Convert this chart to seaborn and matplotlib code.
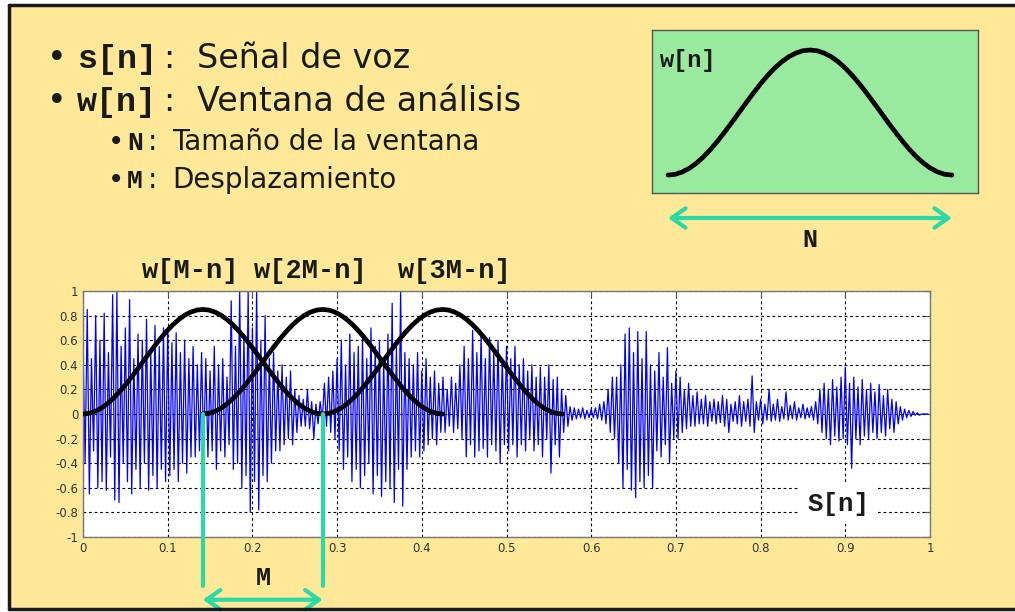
import numpy as np
import pandas as pd
import matplotlib
matplotlib.use("Agg")
import matplotlib.pyplot as plt
import seaborn as sns
from matplotlib.lines import Line2D

# picos positivo / negativo de s[n], un par cada 0.005 s
s_top = [0.55, 0.85, 0.45, 0.80, 0.60, 0.82, 0.50, 0.97, 1.00, 0.55, 0.70, 0.93, 0.45, 0.65, 0.60, 0.77, 0.50, 0.72, 0.55, 0.70,
         0.69, 0.58, 0.66, 0.50, 0.60, 0.45, 0.55, 0.40, 0.50, 0.45, 0.35, 0.55, 0.40, 0.45, 0.30, 0.92, 0.55, 1.00, 0.65, 1.00,
         0.70, 1.00, 0.60, 0.80, 0.45, 0.50, 0.35, 0.40, 0.30, 0.35, 0.20, 0.15, 0.12, 0.20, 0.10, 0.08, 0.10, 0.25, 0.30, 0.35,
         0.45, 0.60, 0.40, 0.65, 0.50, 0.55, 0.62, 0.45, 0.70, 0.55, 0.60, 0.45, 0.65, 0.90, 0.55, 1.00, 0.50, 0.45, 0.40, 0.50,
         0.35, 0.45, 0.30, 0.35, 0.25, 0.30, 0.20, 0.30, 0.25, 0.40, 0.55, 0.45, 0.68, 0.50, 0.65, 0.45, 0.62, 0.50, 0.60, 0.45,
         0.55, 0.45, 0.55, 0.40, 0.45, 0.35, 0.40, 0.30, 0.38, 0.30, 0.40, 0.28, 0.30, 0.20, 0.15, 0.06, 0.05, 0.04, 0.05, 0.03,
         0.04, 0.05, 0.08, 0.10, 0.20, 0.30, 0.30, 0.40, 0.65, 0.70, 0.50, 0.67, 0.45, 0.67, 0.40, 0.35, 0.50, 0.30, 0.54, 0.25,
         0.35, 0.30, 0.20, 0.25, 0.15, 0.18, 0.12, 0.15, 0.10, 0.12, 0.10, 0.15, 0.12, 0.08, 0.10, 0.15, 0.10, 0.12, 0.31, 0.10,
         0.12, 0.08, 0.20, 0.08, 0.12, 0.06, 0.18, 0.07, 0.10, 0.05, 0.08, 0.05, 0.06, 0.10, 0.20, 0.25, 0.20, 0.28, 0.22, 0.30,
         0.38, 0.25, 0.30, 0.22, 0.28, 0.20, 0.25, 0.18, 0.24, 0.15, 0.20, 0.12, 0.10, 0.06, 0.04, 0.03, 0.02, 0.01, 0.00, 0.00]
s_bot = [-0.40, -0.65, -0.30, -0.60, -0.55, -0.62, -0.35, -0.70, -0.72, -0.40, -0.55, -0.65, -0.45, -0.60, -0.40, -0.62, -0.50, -0.60, -0.45, -0.55,
         -0.50, -0.45, -0.55, -0.40, -0.48, -0.35, -0.35, -0.30, -0.30, -0.35, -0.30, -0.45, -0.30, -0.35, -0.25, -0.45, -0.40, -0.60, -0.50, -0.80,
         -0.55, -0.78, -0.50, -0.55, -0.40, -0.30, -0.30, -0.25, -0.20, -0.25, -0.15, -0.10, -0.10, -0.12, -0.20, -0.08, -0.05, -0.10, -0.15, -0.20,
         -0.30, -0.45, -0.35, -0.55, -0.45, -0.60, -0.50, -0.40, -0.65, -0.50, -0.67, -0.55, -0.60, -0.72, -0.45, -0.75, -0.45, -0.35, -0.30, -0.35,
         -0.30, -0.25, -0.20, -0.25, -0.15, -0.15, -0.10, -0.15, -0.12, -0.20, -0.35, -0.25, -0.35, -0.30, -0.28, -0.35, -0.25, -0.30, -0.40, -0.25,
         -0.30, -0.25, -0.35, -0.25, -0.30, -0.20, -0.30, -0.25, -0.35, -0.20, -0.48, -0.25, -0.35, -0.15, -0.10, -0.05, -0.04, -0.03, -0.04, -0.03,
         -0.03, -0.04, -0.05, -0.08, -0.15, -0.20, -0.40, -0.60, -0.45, -0.62, -0.68, -0.55, -0.60, -0.50, -0.60, -0.30, -0.35, -0.25, -0.40, -0.20,
         -0.20, -0.15, -0.12, -0.10, -0.10, -0.08, -0.08, -0.10, -0.06, -0.08, -0.07, -0.10, -0.15, -0.06, -0.08, -0.10, -0.06, -0.10, -0.15, -0.05,
         -0.08, -0.05, -0.06, -0.05, -0.06, -0.04, -0.05, -0.04, -0.05, -0.03, -0.04, -0.03, -0.05, -0.08, -0.15, -0.20, -0.25, -0.18, -0.22, -0.20,
         -0.25, -0.44, -0.20, -0.25, -0.18, -0.20, -0.15, -0.20, -0.15, -0.18, -0.12, -0.15, -0.08, -0.05, -0.03, -0.02, -0.01, -0.01, 0.00, 0.00]

# ventana w[n] (41 muestras) y sus desplazamientos
w_shape = [0, 0.005, 0.021, 0.046, 0.081, 0.124, 0.175, 0.232, 0.294, 0.358, 0.425,
           0.491, 0.556, 0.618, 0.675, 0.726, 0.769, 0.804, 0.829, 0.845, 0.85,
           0.845, 0.829, 0.804, 0.769, 0.726, 0.675, 0.618, 0.556, 0.491, 0.425,
           0.358, 0.294, 0.232, 0.175, 0.124, 0.081, 0.046, 0.021, 0.005, 0]
win_len = 0.283
win_starts = [0.0, 0.1415, 0.283]
win_labels = ["w[M-n]", "w[2M-n]", "w[3M-n]"]

x_ticks = [0, 0.1, 0.2, 0.3, 0.4, 0.5, 0.6, 0.7, 0.8, 0.9, 1]
x_ticklabels = ["0", "0.1", "0.2", "0.3", "0.4", "0.5", "0.6", "0.7", "0.8", "0.9", "1"]
y_ticks = [-1, -0.8, -0.6, -0.4, -0.2, 0, 0.2, 0.4, 0.6, 0.8, 1]
y_ticklabels = ["-1", "-0.8", "-0.6", "-0.4", "-0.2", "0", "0.2", "0.4", "0.6", "0.8", "1"]

yellow = "#FFE999"
green = "#99E99F"
teal = "#2AD9A6"
mono = "Liberation Mono"
sans = "DejaVu Sans"
ink = "#1a1a1a"

sns.set_theme(style="white")
plt.rcParams["font.family"] = ["DejaVu Sans"]

W, H = 1015, 612
def fx(px):
    return px / W
def fy(py):
    return 1 - py / H

fig = plt.figure(figsize=(10.15, 6.12), dpi=100)
fig.patch.set_facecolor(yellow)
# franja blanca y marco de la diapositiva (izquierda, arriba, abajo)
fig.add_artist(plt.Rectangle((0, 0), 1, 1, transform=fig.transFigure,
                             facecolor="white", edgecolor="none", zorder=0))
fig.add_artist(plt.Rectangle((fx(8.5), fy(609)), 1.2, (609 - 5) / H,
                             transform=fig.transFigure, facecolor=yellow,
                             edgecolor="none", zorder=0))
for xs, ys in [([8.5, 8.5], [5, 609]), ([8.5, 1015], [5, 5]), ([8.5, 1015], [609, 609])]:
    fig.add_artist(Line2D([fx(v) for v in xs], [fy(v) for v in ys],
                          transform=fig.transFigure, color=ink, lw=2.5, zorder=1))

# ---- senal principal ----
ax = fig.add_axes([fx(83), fy(537), 847 / W, 246 / H])
ax.set_facecolor("white")

t = np.arange(2 * len(s_top)) * 0.0025
s = np.empty(2 * len(s_top))
s[0::2] = s_top
s[1::2] = s_bot
df_s = pd.DataFrame({"t": t, "s": s})
sns.lineplot(data=df_s, x="t", y="s", sort=False, estimator=None,
             color="#0000FF", lw=0.9, ax=ax, zorder=2)

curve = dict(color="black", lw=3.4, solid_joinstyle="round", solid_capstyle="round")
for st in win_starts:
    df_w = pd.DataFrame({"n": st + np.linspace(0, win_len, len(w_shape)), "w": w_shape})
    sns.lineplot(data=df_w, x="n", y="w", sort=False, estimator=None,
                 ax=ax, zorder=3, **curve)

for st in win_starts[1:]:
    ax.plot([st, st], [0, -1.40], color=teal, lw=3, clip_on=False, zorder=4)

arrow = dict(arrowstyle="<->,head_length=0.5,head_width=0.35", color=teal,
             lw=3, mutation_scale=20, shrinkA=0, shrinkB=0)
ax.annotate("", xy=(win_starts[2], -1.51), xytext=(win_starts[1], -1.51),
            arrowprops=arrow, annotation_clip=False)
ax.text((win_starts[1] + win_starts[2]) / 2, -1.33, "M", ha="center", va="center",
        family=mono, weight="bold", size=18, color=ink, clip_on=False)

ax.set_xlim(0, 1)
ax.set_ylim(-1, 1)
ax.set_xticks(x_ticks)
ax.set_xticklabels(x_ticklabels)
ax.set_yticks(y_ticks)
ax.set_yticklabels(y_ticklabels)
ax.set_xlabel("")
ax.set_ylabel("")
ax.tick_params(direction="in", top=True, right=True, length=4, width=0.8,
               colors="#555", labelsize=8.5, labelcolor="#333")
ax.grid(True, color="black", linestyle=(0, (2.5, 2.5)), lw=0.8)
ax.set_axisbelow(True)
for sp in ax.spines.values():
    sp.set_color("#777")
    sp.set_linewidth(1)

ax.text(0.856, -0.73, "S[n]", ha="left", va="center", family=mono,
        weight="bold", size=18.5, color=ink,
        bbox=dict(facecolor="white", edgecolor="none", pad=6), zorder=5)

for lab, px in zip(win_labels, [142, 254, 398]):
    fig.text(fx(px), fy(271), lab, ha="left", va="center", family=mono,
             weight="bold", size=19.5, color=ink)

# ---- recuadro w[n] ----
ins = fig.add_axes([fx(652), fy(193), 326 / W, 163 / H])
ins.set_facecolor(green)
df_w0 = pd.DataFrame({"n": np.linspace(0, win_len, len(w_shape)), "w": w_shape})
sns.lineplot(data=df_w0, x="n", y="w", sort=False, estimator=None, ax=ins, **curve)
ins.set_xlim(-0.016, 0.309)
ins.set_ylim(-0.122, 0.986)
ins.set_xticks([])
ins.set_yticks([])
ins.set_xlabel("")
ins.set_ylabel("")
for sp in ins.spines.values():
    sp.set_color("#555")
    sp.set_linewidth(1)
ins.annotate("", xy=(win_len, -0.292), xytext=(0, -0.292),
             arrowprops=arrow, annotation_clip=False)
ins.text(win_len / 2, -0.441, "N", ha="center", va="center", family=mono,
         weight="bold", size=18, color=ink, clip_on=False)
fig.text(fx(660), fy(60), "w[n]", ha="left", va="center", family=mono,
         weight="bold", size=17, color=ink)

# ---- texto de vinetas ----
lines = [
    (47, 77, 163, 197, 68, "s[n]", "Señal de voz", 24, 24),
    (47, 77, 163, 197, 111, "w[n]", "Ventana de análisis", 24, 24),
    (108, 127, 148, 172, 150, "N", "Tamaño de la ventana", 19, 20),
    (108, 127, 148, 172, 188, "M", "Desplazamiento", 19, 20),
]
for bx, mx, cx, tx, by, code, desc, msize, tsize in lines:
    fig.text(fx(bx), fy(by), "•", ha="left", va="baseline", family=sans,
             size=tsize, color=ink)
    fig.text(fx(mx), fy(by), code, ha="left", va="baseline", family=mono,
             weight="bold", size=msize, color=ink)
    fig.text(fx(cx), fy(by), ":", ha="left", va="baseline", family=sans,
             size=tsize, color=ink)
    fig.text(fx(tx), fy(by), desc, ha="left", va="baseline", family=sans,
             size=tsize, color=ink)

fig.savefig("out.png", dpi=100, facecolor=fig.get_facecolor())
